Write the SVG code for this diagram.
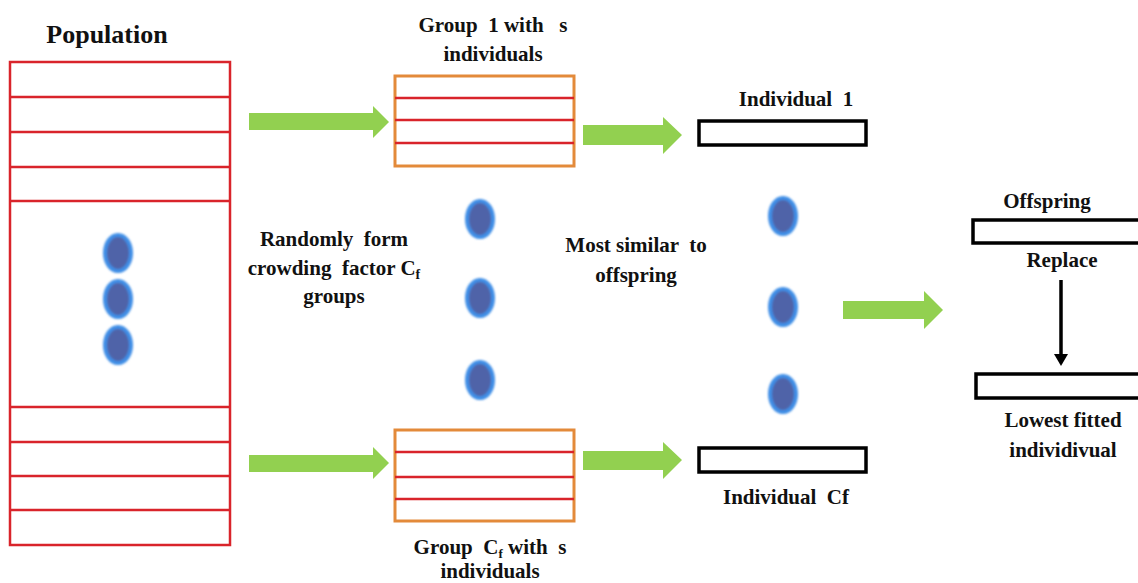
<svg xmlns="http://www.w3.org/2000/svg" width="1138" height="583" viewBox="0 0 1138 583">
<style>
.t{font-family:"Liberation Serif","Times New Roman",serif;font-weight:bold;font-size:21px;fill:#111;text-anchor:middle;white-space:pre}
.pop{fill:#fff;stroke:#d9242b;stroke-width:2.5}
.rl{stroke:#d9242b;stroke-width:2.5}
.grp{fill:#fff;stroke:#e38a3a;stroke-width:3}
.ind{fill:#fff;stroke:#000;stroke-width:3.5}
.ga{fill:#92d050}
.dot{fill:#4f63a8;stroke:#3f8ee6;stroke-width:4}
</style>
<defs>
<filter id="soft" x="-30%" y="-30%" width="160%" height="160%"><feGaussianBlur stdDeviation="0.8"/></filter>
</defs>
<rect width="1138" height="583" fill="#fff"/>

<g id="population">
<text class="t" x="107" y="43" style="font-size:26px">Population</text>
<rect class="pop" x="10" y="62" width="220" height="483"/>
<line class="rl" x1="10" y1="97" x2="230" y2="97"/>
<line class="rl" x1="10" y1="132" x2="230" y2="132"/>
<line class="rl" x1="10" y1="167" x2="230" y2="167"/>
<line class="rl" x1="10" y1="201" x2="230" y2="201"/>
<line class="rl" x1="10" y1="407" x2="230" y2="407"/>
<line class="rl" x1="10" y1="442" x2="230" y2="442"/>
<line class="rl" x1="10" y1="476" x2="230" y2="476"/>
<line class="rl" x1="10" y1="510" x2="230" y2="510"/>
<g filter="url(#soft)">
<ellipse class="dot" cx="118" cy="253" rx="13" ry="18"/>
<ellipse class="dot" cx="118" cy="299" rx="13" ry="18"/>
<ellipse class="dot" cx="118" cy="345" rx="13" ry="18"/>
</g>
</g>

<g id="group1">
<text class="t" x="493" y="32">Group  1 with   s</text>
<text class="t" x="493" y="61">individuals</text>
<rect class="grp" x="395" y="76" width="179" height="90"/>
<line class="rl" x1="395" y1="98" x2="574" y2="98"/>
<line class="rl" x1="395" y1="120" x2="574" y2="120"/>
<line class="rl" x1="395" y1="143" x2="574" y2="143"/>
</g>

<g id="groupCf">
<rect class="grp" x="395" y="430" width="179" height="91"/>
<line class="rl" x1="395" y1="452" x2="574" y2="452"/>
<line class="rl" x1="395" y1="477" x2="574" y2="477"/>
<line class="rl" x1="395" y1="499" x2="574" y2="499"/>
<text class="t" x="490" y="554">Group  C<tspan style="font-size:13px" dy="4">f</tspan><tspan dy="-4"> with  s</tspan></text>
<text class="t" x="490" y="578">individuals</text>
</g>

<g id="group-dots" filter="url(#soft)">
<ellipse class="dot" cx="480" cy="219" rx="13" ry="18"/>
<ellipse class="dot" cx="480" cy="298" rx="13" ry="18"/>
<ellipse class="dot" cx="480" cy="380" rx="13" ry="18"/>
</g>

<g id="label-random">
<text class="t" x="334" y="246">Randomly  form</text>
<text class="t" x="334" y="275">crowding  factor C<tspan style="font-size:14px" dy="4">f</tspan></text>
<text class="t" x="334" y="303">groups</text>
</g>

<g id="label-similar">
<text class="t" x="636" y="252">Most similar  to</text>
<text class="t" x="636" y="282">offspring</text>
</g>

<g id="individual1">
<text class="t" x="796" y="106">Individual  1</text>
<rect class="ind" x="699" y="121" width="167" height="24"/>
</g>

<g id="individualCf">
<rect class="ind" x="699" y="448" width="167" height="24"/>
<text class="t" x="786" y="504">Individual  Cf</text>
</g>

<g id="ind-dots" filter="url(#soft)">
<ellipse class="dot" cx="783" cy="216" rx="13" ry="18"/>
<ellipse class="dot" cx="783" cy="307" rx="13" ry="18"/>
<ellipse class="dot" cx="783" cy="394" rx="13" ry="18"/>
</g>

<g id="offspring">
<text class="t" x="1047" y="208">Offspring</text>
<rect class="ind" x="973" y="220" width="180" height="23"/>
<text class="t" x="1062" y="267">Replace</text>
</g>

<g id="lowest">
<rect class="ind" x="976" y="374" width="180" height="24"/>
<text class="t" x="1063" y="427">Lowest fitted</text>
<text class="t" x="1063" y="457">individivual</text>
</g>

<g id="connectors">
<polygon class="ga" points="249,113 373,113 373,106 389,122 373,138 373,130 249,130"/>
<polygon class="ga" points="249,455 373,455 373,447 389,463 373,479 373,472 249,472"/>
<polygon class="ga" points="583,125 663,125 663,117 682,135 663,154 663,145 583,145"/>
<polygon class="ga" points="583,451 663,451 663,442 682,460 663,479 663,470 583,470"/>
<polygon class="ga" points="843,301 924,301 924,291 943,310 924,329 924,319 843,319"/>
<line x1="1061" y1="280" x2="1061" y2="356" stroke="#000" stroke-width="3.5"/>
<polygon points="1054,354 1068,354 1061,366" fill="#000"/>
</g>
</svg>
